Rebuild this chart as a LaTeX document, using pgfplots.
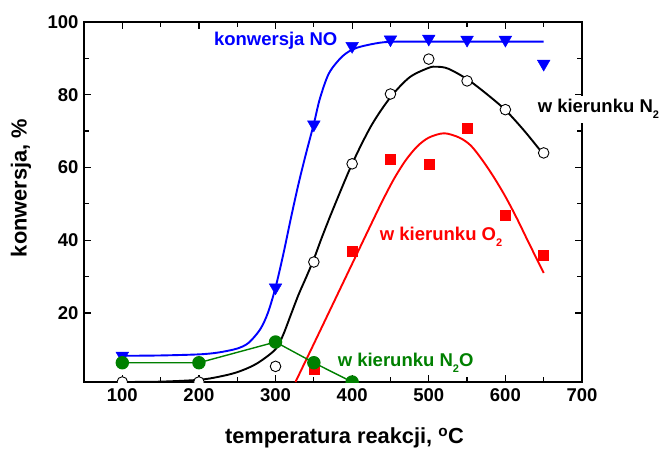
\documentclass[border=0pt]{standalone}
\usepackage{fontspec}
\setmainfont{Liberation Sans}
\usepackage{pgfplots}
\pgfplotsset{compat=1.18}
\definecolor{cblue}{RGB}{0,0,255}
\definecolor{cred}{RGB}{255,0,0}
\definecolor{cgreen}{RGB}{0,128,0}
\newcommand\tickfont{\fontsize{18.5}{20}\selectfont\bfseries}
\newcommand\labfont{\fontsize{21.8}{24}\selectfont\bfseries}
\newcommand\txtfont{\fontsize{18.5}{20}\selectfont\bfseries}
\newcommand\sub[1]{\raisebox{-6pt}{\fontsize{11}{11}\selectfont #1}}
\begin{document}
\begin{tikzpicture}
\path[use as bounding box] (-84pt,-66pt) rectangle (578pt,382pt);
\begin{axis}[
  at={(0,0)}, anchor=south west,
  width=498pt, height=360pt, scale only axis,
  xmin=50, xmax=700, ymin=1, ymax=100,
  xtick={100,200,...,700}, ytick={20,40,60,80,100},
  minor x tick num=1, minor y tick num=1,
  tick align=inside,
  major tick length=7pt, minor tick length=5pt,
  axis line style={line width=1.3pt},
  every tick/.style={line width=1.2pt, black},
  /pgf/number format/assume math mode=true,
  ticklabel style={font=\tickfont},
  xticklabel style={yshift=-3pt},
  yticklabel style={xshift=-2pt},
  clip marker paths=true,
]
% black fitted curve (N2)
\addplot[black, line width=1.9pt, smooth] coordinates {
(100,1) (150,1.1) (200,1.6) (225,2.4) (250,3.7) (275,6) (300,10) (310,14) (320,19.5) (330,25) (340,29.8) (350,34.8) (360,40.5) (375,48.5) (400,61) (425,71.5) (450,79.3) (475,84.8) (500,87.4) (510,87.7) (525,87.2) (550,84.3) (575,80.3) (600,75.8) (625,70) (650,63.5)};
% blue fitted curve (NO)
\addplot[cblue, line width=1.9pt, smooth] coordinates {
(100,8.2) (150,8.3) (200,8.6) (225,9.1) (250,10.2) (265,11.8) (280,15.5) (290,20) (300,27) (310,36) (320,46) (330,55.5) (340,64) (350,72) (358,79) (370,86) (388,90.7) (406,92.9) (436,94.3) (460,94.6) (500,94.6) (650,94.6)};
% red fitted curve (O2)
\addplot[cred, line width=1.9pt, smooth] coordinates {
(326,1) (350,11.5) (375,22.5) (400,33.5) (425,44.5) (440,51) (455,57) (470,62) (485,65.8) (500,68.2) (520,69.4) (540,68.2) (555,66) (570,62) (585,57.3) (600,52) (615,46) (630,39.5) (650,31)};
% black open circles
\addplot[only marks, mark=*, mark size=5.3pt, mark options={draw=black, fill=white, line width=0.9pt}] coordinates {
(100,1) (200,1) (300,5.3) (350,34) (400,61) (450,80.2) (500,89.8) (550,83.8) (600,75.9) (650,64)};
% blue triangles
\addplot[only marks, mark=triangle*, mark size=7.3pt, mark options={rotate=180, draw=cblue, fill=cblue}] coordinates {
(100,8.2) (300,27) (350,71.8) (400,93.4) (450,95.2) (500,95.4) (550,95.1) (600,95.1) (650,88.5)};
% red squares
\addplot[only marks, mark=square*, mark size=5pt, mark options={draw=cred, fill=cred}] coordinates {
(350,4.4) (400,37) (450,62.2) (500,61) (550,70.9) (600,47) (650,36)};
% green N2O
\addplot[cgreen, line width=1.4pt, mark=*, mark size=6pt, mark options={draw=cgreen, fill=cgreen}] coordinates {
(100,6.3) (200,6.3) (300,12) (350,6.3) (400,1)};
\coordinate (lNO) at (axis cs:381,94.8);
\coordinate (lN2) at (axis cs:642,76);
\coordinate (lO2) at (axis cs:436,40.8);
\coordinate (lN2O) at (axis cs:381,6.3);
\end{axis}
\node[anchor=east, inner sep=0pt, text=cblue, font=\txtfont] at (lNO) {konwersja NO};
\node[anchor=west, inner xsep=0pt, inner ysep=4pt, fill=white, text=black, font=\txtfont] at (lN2) {w kierunku N\sub{2}};
\node[anchor=west, inner sep=0pt, text=cred, font=\txtfont] at (lO2) {w kierunku O\sub{2}};
\node[anchor=west, inner sep=0pt, text=cgreen, font=\txtfont] at (lN2O) {w kierunku N\sub{2}O};
\node[font=\labfont] at (260.5pt,-56pt) {temperatura reakcji, \textsuperscript{o}C};
\node[font=\labfont, rotate=90] at (-63pt,194pt) {konwersja, \%};
\end{tikzpicture}
\end{document}
